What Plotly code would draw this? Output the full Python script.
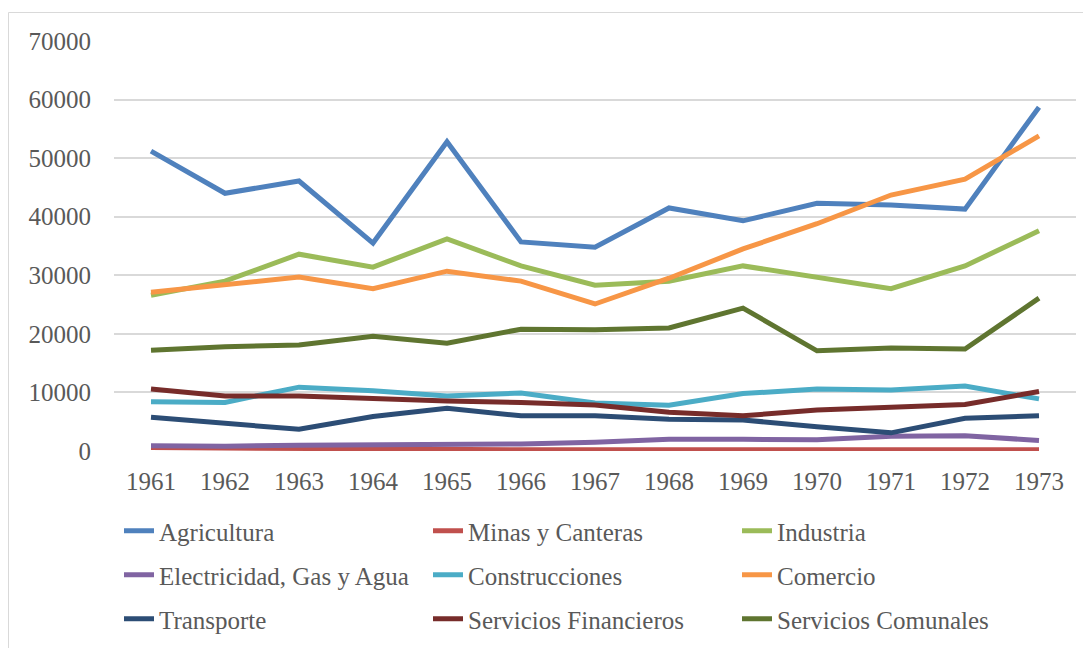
import plotly.graph_objects as go

years = [str(y) for y in range(1961, 1974)]

agricultura = [51200, 44000, 46100, 35500, 52800, 35700, 34800, 41500, 39300, 42300, 42000, 41300, 58700]
minas = [600, 500, 400, 200, 200, 200, 200, 200, 200, 200, 200, 300, 200]
industria = [26600, 29000, 33600, 31400, 36200, 31600, 28300, 29000, 31600, 29700, 27700, 31600, 37600]
electricidad = [900, 800, 1000, 1000, 1100, 1200, 1500, 2000, 2000, 1900, 2500, 2600, 1800]
construcciones = [8400, 8300, 10900, 10300, 9400, 9900, 8200, 7800, 9800, 10600, 10400, 11100, 8900]
comercio = [27100, 28500, 29700, 27700, 30700, 29000, 25100, 29500, 34500, 38800, 43700, 46400, 53800]
transporte = [5750, 4700, 3700, 5900, 7300, 6000, 6000, 5400, 5300, 4150, 3100, 5600, 6000]
financieros = [10600, 9400, 9400, 8950, 8550, 8300, 7850, 6600, 6000, 7000, 7550, 7950, 10150]
comunales = [17200, 17800, 18100, 19600, 18400, 20800, 20700, 21000, 24400, 17100, 17600, 17400, 26100]

series_names = ["Agricultura", "Minas y Canteras", "Industria",
                "Electricidad, Gas y Agua", "Construcciones", "Comercio",
                "Transporte", "Servicios Financieros", "Servicios Comunales"]
series_values = [agricultura, minas, industria, electricidad, construcciones,
                 comercio, transporte, financieros, comunales]
colors = ["#4F81BD", "#C0504D", "#9BBB59", "#8064A2", "#4BACC6", "#F79646",
          "#2C4D75", "#772C2A", "#5F7530"]

# page body has an 8px margin, so the figure is drawn 8px in from the window corner
OFF = 8
W, H = 1091 - OFF, 648 - OFF
# plot area in window pixels: x 114..1076, y 41..451
L, R, T, B = 114 - OFF, 1091 - 1076, 41 - OFF, 648 - 451
pw, ph = W - L - R, H - T - B
FONT = "Liberation Serif"
TXT = "#595959"

fig = go.Figure()
legend_ids = ["legend", "legend2", "legend3"]
for i, (name, vals, col) in enumerate(zip(series_names, series_values, colors)):
    fig.add_trace(go.Scatter(
        x=years, y=vals, name=name, mode="lines",
        line=dict(color=col, width=5),
        legend=legend_ids[i // 3],
    ))

def px2paper_x(px):  # window pixel -> paper
    return (px - OFF - L) / pw

def px2paper_y(py):
    return (H - B - (py - OFF)) / ph

row_y = [531, 575, 619]
legend_common = dict(orientation="h", xanchor="left", yanchor="middle",
                     entrywidth=264, entrywidthmode="pixels",
                     font=dict(family=FONT, size=25, color=TXT),
                     bgcolor="rgba(0,0,0,0)", itemclick=False)

layout_legends = {}
for lid, ry in zip(legend_ids, row_y):
    layout_legends[lid] = dict(legend_common, x=px2paper_x(119), y=px2paper_y(ry))

fig.update_layout(
    width=W, height=H,
    margin=dict(l=L, r=R, t=T, b=B, autoexpand=False),
    paper_bgcolor="white", plot_bgcolor="white",
    font=dict(family=FONT, size=25, color=TXT),
    showlegend=True,
    xaxis=dict(type="category", range=[-0.5, len(years) - 0.5], showgrid=False,
               zeroline=False, showline=False,
               ticks="", ticklabelstandoff=13,
               tickfont=dict(family=FONT, size=25, color=TXT)),
    yaxis=dict(range=[0, 70000], dtick=10000, showgrid=True, gridcolor="#D9D9D9",
               gridwidth=1.5, zeroline=False, showline=False, ticks="",
               ticklabelstandoff=22, tickformat="d",
               tickfont=dict(family=FONT, size=25, color=TXT)),
    shapes=[dict(type="rect", xref="paper", yref="paper",
                 x0=px2paper_x(8.5), x1=px2paper_x(1200),
                 y0=px2paper_y(800), y1=px2paper_y(12.5),
                 line=dict(color="#D9D9D9", width=1), fillcolor="rgba(0,0,0,0)",
                 layer="below")],
    **layout_legends,
)

fig.write_html("out.html")
